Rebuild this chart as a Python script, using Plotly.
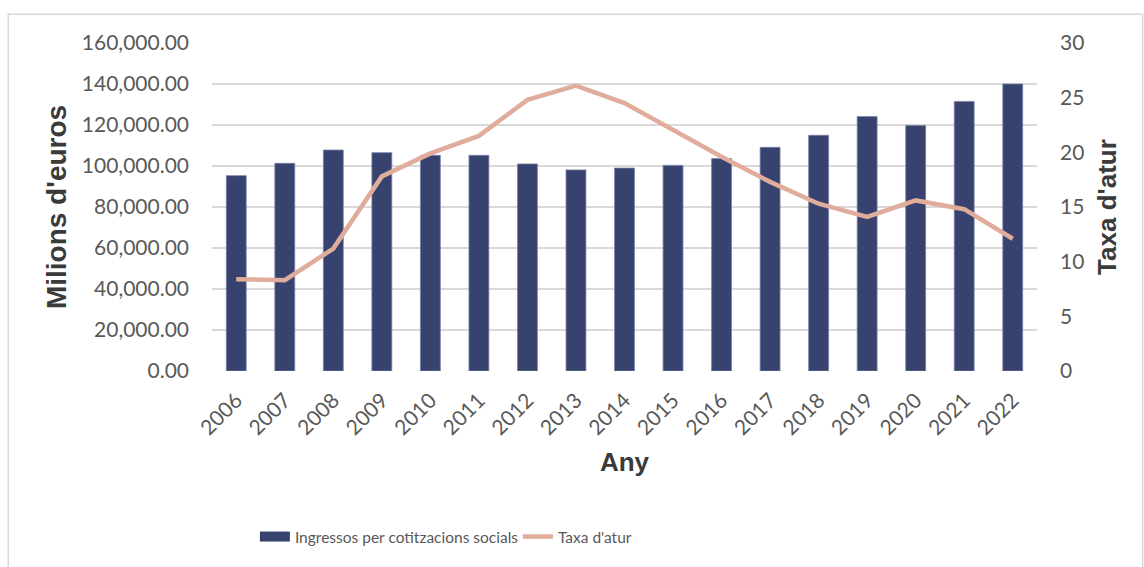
import plotly.graph_objects as go

# Annual series
years = ["2006", "2007", "2008", "2009", "2010", "2011", "2012", "2013", "2014",
         "2015", "2016", "2017", "2018", "2019", "2020", "2021", "2022"]
ingressos = [95300, 101300, 107800, 106500, 105200, 105200, 101000, 98100, 99000,
             100300, 103600, 109100, 115000, 124100, 119800, 131500, 140000]
taxa_atur = [8.4, 8.3, 11.2, 17.8, 19.9, 21.5, 24.8, 26.1, 24.5,
             22.0, 19.6, 17.3, 15.3, 14.1, 15.6, 14.8, 12.1]

left_ticks = [0, 20000, 40000, 60000, 80000, 100000, 120000, 140000, 160000]
right_ticks = [0, 5, 10, 15, 20, 25, 30]

BAR_COLOR = "#37426F"
LINE_COLOR = "#E0AC9B"
GRID_COLOR = "#D9D9D9"
TICK_COLOR = "#595959"
TITLE_COLOR = "#3A3A3A"
TICK_FONT = "Lato, Open Sans, sans-serif"
TITLE_FONT = "Liberation Sans, Arial, sans-serif"

fig = go.Figure()

fig.add_trace(go.Bar(
    x=years, y=ingressos, name="Ingressos per cotitzacions socials",
    marker=dict(color=BAR_COLOR, line=dict(color="#7A82A6", width=0.8)),
    width=0.41, yaxis="y", legendgroup="ingressos", showlegend=False,
))
# legend entry for the bars, drawn as a wide block swatch
fig.add_trace(go.Scatter(
    x=[None], y=[None], name="Ingressos per cotitzacions socials", mode="lines",
    line=dict(color=BAR_COLOR, width=14), legendgroup="ingressos",
    hoverinfo="skip",
))

fig.add_trace(go.Scatter(
    x=years, y=taxa_atur, name="Taxa d'atur", mode="lines",
    line=dict(color=LINE_COLOR, width=4.5), yaxis="y2",
))

fig.update_layout(
    width=1144, height=567,
    margin=dict(l=212, r=107, t=43, b=196),
    plot_bgcolor="white", paper_bgcolor="white",
    showlegend=True,
    legend=dict(
        orientation="h", x=0.052, xanchor="left", y=-0.506, yanchor="middle",
        font=dict(family=TICK_FONT, size=15.5, color=TICK_COLOR),
        itemwidth=30, traceorder="normal",
        entrywidthmode="pixels", entrywidth=218,
    ),
    xaxis=dict(
        type="category", tickangle=-45, showgrid=False, zeroline=False,
        showline=False, ticks="", ticklabelstandoff=12,
        tickfont=dict(family=TICK_FONT, size=21, color=TICK_COLOR),
        title=dict(text="Any", standoff=14,
                   font=dict(family=TITLE_FONT, size=26, color=TITLE_COLOR, weight="bold")),
    ),
    yaxis=dict(
        range=[0, 160000], tickvals=left_ticks,
        tickformat=",.2f", showgrid=True, gridcolor=GRID_COLOR, gridwidth=1.5,
        zeroline=False, showline=False, ticks="", ticklabelstandoff=22,
        tickfont=dict(family=TICK_FONT, size=21, color=TICK_COLOR),
        title=dict(text="Milions d'euros", standoff=7,
                   font=dict(family=TITLE_FONT, size=28, color=TITLE_COLOR, weight="bold")),
    ),
    yaxis2=dict(
        range=[0, 30], tickvals=right_ticks, overlaying="y", side="right",
        showgrid=False, zeroline=False, showline=False, ticks="",
        ticklabelstandoff=22,
        tickfont=dict(family=TICK_FONT, size=21, color=TICK_COLOR),
        title=dict(text="Taxa d'atur", standoff=14,
                   font=dict(family=TITLE_FONT, size=26, color=TITLE_COLOR, weight="bold")),
    ),
    bargap=0.59,
    shapes=[dict(
        type="rect", xref="paper", yref="paper",
        x0=-0.247, x1=1.128, y0=-0.75, y1=1.088,
        line=dict(color=GRID_COLOR, width=1.5), fillcolor="rgba(0,0,0,0)", layer="below",
    )],
)

fig.write_html("out.html")
